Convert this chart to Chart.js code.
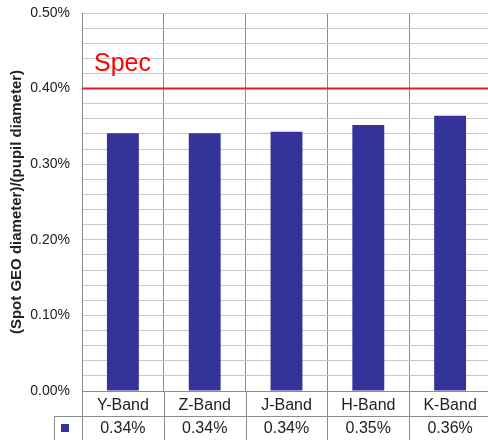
<!DOCTYPE html>
<html>
<head>
<meta charset="utf-8">
<script src="https://cdn.jsdelivr.net/npm/chart.js@4.4.0/dist/chart.umd.min.js"></script>
<style>
    html, body { margin: 0; padding: 0; background: #fff; overflow: hidden; }
    #wrap { width: 491px; height: 440px; }
</style>
</head>
<body>
<div id="wrap"><canvas id="spotChart" width="491" height="440"></canvas></div>
<script>
/* data (values in %) */
const bands = ['Y-Band', 'Z-Band', 'J-Band', 'H-Band', 'K-Band'];
const spotRatio = [0.341, 0.341, 0.343, 0.352, 0.364];
const specLimit = 0.40;
const yTickLabels = [0, 0.1, 0.2, 0.3, 0.4, 0.5];

const BAR_COLOR = '#333399';
const LINE_GREY = '#8c8c8c';
const TEXT = '#222222';
const FONT = '"Liberation Sans", Arial, sans-serif';

/* spec limit line and its label */
const specLine = {
    id: 'specLine',
    afterDatasetsDraw: function (chart) {
        var ctx = chart.ctx;
        var area = chart.chartArea;
        var y = chart.scales.y.getPixelForValue(specLimit);
        ctx.save();
        ctx.strokeStyle = '#e41c1c';
        ctx.lineWidth = 2;
        ctx.beginPath();
        ctx.moveTo(area.left, y);
        ctx.lineTo(area.right, y);
        ctx.stroke();
        ctx.fillStyle = '#ff0000';
        ctx.font = '25px ' + FONT;
        ctx.textAlign = 'left';
        ctx.textBaseline = 'alphabetic';
        ctx.fillText('Spec', area.left + 12, y - 18);
        ctx.restore();
    }
};

/* y axis title + data table under the plot */
const dataTable = {
    id: 'dataTable',
    afterDraw: function (chart) {
        var ctx = chart.ctx;
        var area = chart.chartArea;
        var xs = chart.scales.x;
        var half = (area.right - area.left) / bands.length / 2;
        var rowY = area.bottom + 25;
        var bottom = chart.height;

        ctx.save();
        ctx.strokeStyle = LINE_GREY;
        ctx.lineWidth = 1;
        ctx.beginPath();
        ctx.moveTo(54, rowY + 0.5);
        ctx.lineTo(area.right, rowY + 0.5);
        ctx.moveTo(54.5, rowY);
        ctx.lineTo(54.5, bottom);
        for (var i = 0; i <= bands.length; i++) {
            var bx = Math.round(area.left + i * half * 2) + 0.5;
            ctx.moveTo(bx, area.bottom);
            ctx.lineTo(bx, bottom);
        }
        ctx.stroke();

        // legend key
        ctx.fillStyle = BAR_COLOR;
        ctx.fillRect(61, 424, 8, 8);

        // value row
        ctx.fillStyle = TEXT;
        ctx.font = '16px ' + FONT;
        ctx.textAlign = 'center';
        ctx.textBaseline = 'middle';
        spotRatio.forEach(function (v, i) {
            ctx.fillText(v.toFixed(2) + '%', xs.getPixelForValue(i), rowY + 13);
        });

        // rotated y axis title
        ctx.translate(17, (area.top + area.bottom) / 2);
        ctx.rotate(-Math.PI / 2);
        ctx.font = 'bold 15px ' + FONT;
        ctx.fillText('(Spot GEO diameter)/(pupil diameter)', 0, 0);
        ctx.restore();
    }
};

var ctx = document.getElementById('spotChart').getContext('2d');
var spotChart = new Chart(ctx, {
    type: 'bar',
    data: {
        labels: bands,
        datasets: [{
            label: 'Spot ratio',
            data: spotRatio,
            backgroundColor: BAR_COLOR,
            categoryPercentage: 1,
            barPercentage: 0.39
        }]
    },
    options: {
        responsive: false,
        animation: false,
        layout: { padding: { top: 13, right: 0, bottom: 0, left: 0 } },
        plugins: {
            legend: { display: false },
            tooltip: { enabled: false }
        },
        scales: {
            x: {
                afterFit: function (scale) { scale.height = 49; },
                grid: { display: true, offset: true, color: LINE_GREY, drawTicks: false },
                border: { display: true, color: LINE_GREY },
                ticks: {
                    color: TEXT,
                    font: { family: FONT, size: 16 },
                    padding: 5
                }
            },
            y: {
                min: 0,
                max: 0.5,
                afterFit: function (scale) {
                    scale.width = 82;
                    scale.paddingTop = 0;
                    scale.paddingBottom = 0;
                },
                grid: { color: '#c8c8c8', drawTicks: false },
                border: { display: true, color: LINE_GREY },
                ticks: {
                    stepSize: 0.02,
                    autoSkip: false,
                    color: TEXT,
                    font: { family: FONT, size: 14 },
                    padding: 12,
                    callback: function (v) {
                        var hit = yTickLabels.some(function (t) { return Math.abs(t - v) < 1e-6; });
                        return hit ? v.toFixed(2) + '%' : '';
                    }
                }
            }
        }
    },
    plugins: [specLine, dataTable]
});
</script>
</body>
</html>
